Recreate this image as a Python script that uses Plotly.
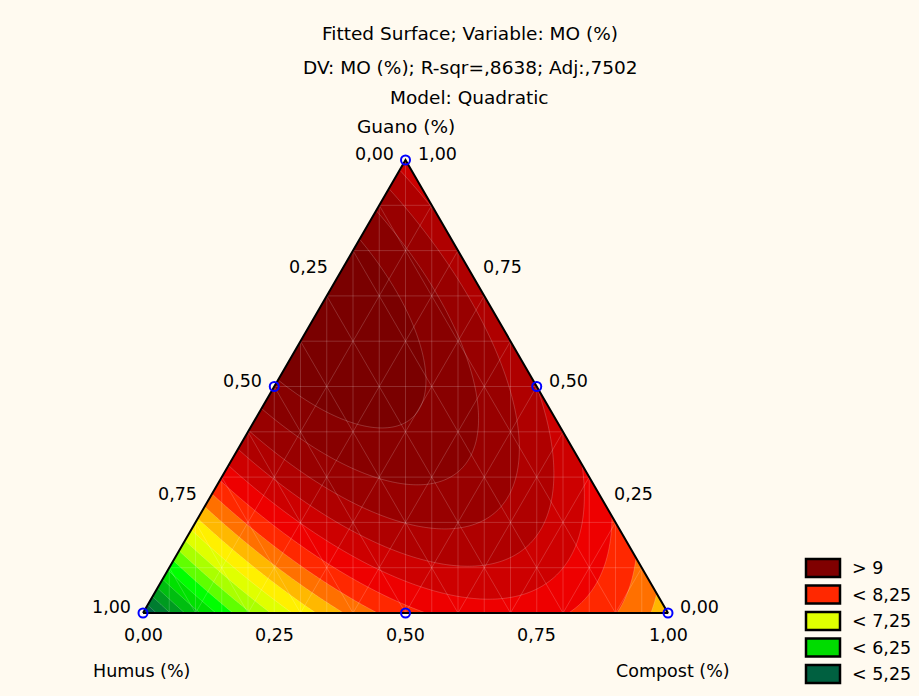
import numpy as np
import plotly.graph_objects as go

# ---------------- data ----------------
# Mixture design points (proportions) and fitted MO (%) at them
humus = [1.0, 0.0, 0.0, 0.5, 0.5, 0.0]
compost = [0.0, 1.0, 0.0, 0.5, 0.0, 0.5]
guano = [0.0, 0.0, 1.0, 0.0, 0.5, 0.5]
mo_fitted = [5.00, 7.60, 8.60, 8.16, 9.45, 8.75]

contour_start = 5.25
contour_end = 9.5
contour_step = 0.25
band_colors = ["#006040", "#007D30", "#009B20", "#00BE10", "#00E000", "#00FF00",
               "#60FF00", "#AAFF00", "#E0FF00", "#FFF000", "#FFB800", "#FF7000",
               "#FF2800", "#EE0000", "#CD0000", "#AF0000", "#980000", "#880000",
               "#7A0000"]

legend_labels = ["> 9", "< 8,25", "< 7,25", "< 6,25", "< 5,25"]
legend_colors = ["#800000", "#FF2800", "#E0FF00", "#00DC00", "#006040"]

tick_values = [0.0, 0.25, 0.5, 0.75, 1.0]
tick_labels = ["0,00", "0,25", "0,50", "0,75", "1,00"]

title_lines = ["Fitted Surface; Variable: MO (%)",
               "DV: MO (%); R-sqr=,8638; Adj:,7502",
               "Model: Quadratic"]
axis_titles = ["Guano (%)", "Humus (%)", "Compost (%)"]

# ---------------- quadratic (Scheffe) mixture model ----------------
y1, y2, y3, y12, y13, y23 = mo_fitted
b1, b2, b3 = y1, y2, y3
b12 = 4 * y12 - 2 * (y1 + y2)
b13 = 4 * y13 - 2 * (y1 + y3)
b23 = 4 * y23 - 2 * (y2 + y3)

S = np.sqrt(3) / 2
xs = np.linspace(0, 1, 321)
ys = np.linspace(0, S, 281)
X, Y = np.meshgrid(xs, ys)
G = Y / S
C = X - G / 2
Hm = 1 - C - G
Z = b1 * Hm + b2 * C + b3 * G + b12 * Hm * C + b13 * Hm * G + b23 * C * G

BG = "#FFFAF0"
FONT = "DejaVu Sans"
FS = 18.5
FS_SMALL = 17.5
TXT = "#000000"

W, Hpx = 919, 696
sx = 525.0
sy = 453.0 / S
xr = [-143 / sx, (W - 143) / sx]
yr = [-(Hpx - 613) / sy, 613 / sy]


def pix(px, py):
    return (px - 143) / sx, (613 - py) / sy


def tern(h, c, g):
    return c + g / 2, g * S


fig = go.Figure()

nlev = int(round((contour_end - contour_start) / contour_step)) + 1
cscale = [[k / nlev, col] for k, col in enumerate(band_colors)]
fig.add_trace(go.Contour(
    x=xs, y=ys, z=Z,
    autocontour=False,
    contours=dict(start=contour_start, end=contour_end, size=contour_step,
                  coloring="fill", showlines=True),
    line=dict(color="rgba(255,255,255,0.28)", width=0.7, smoothing=1),
    colorscale=cscale, showscale=False, hoverinfo="skip"))

# faint mesh lines inside the triangle
mx, my = [], []
for k in range(1, 10):
    v = k / 10
    for p, q in [((1 - v, 0, v), (0, 1 - v, v)),
                 ((v, 0, 1 - v), (v, 1 - v, 0)),
                 ((1 - v, v, 0), (0, v, 1 - v))]:
        a = tern(*p)
        b = tern(*q)
        mx += [a[0], b[0], None]
        my += [a[1], b[1], None]
for k in range(1, 20):
    x = k * 0.05
    top = min(np.sqrt(3) * x, np.sqrt(3) * (1 - x))
    mx += [x, x, None]
    my += [0, top, None]
fig.add_trace(go.Scatter(x=mx, y=my, mode="lines",
                         line=dict(color="rgba(255,255,255,0.25)", width=0.7),
                         hoverinfo="skip", showlegend=False))

# masks outside triangle
e = 0.03
fig.add_trace(go.Scatter(x=[0, 0.5, 0.5, -e, -e, 0], y=[0, S, S + e, S + e, 0, 0],
                         mode="lines", fill="toself", fillcolor=BG,
                         line=dict(width=0, color=BG), hoverinfo="skip", showlegend=False))
fig.add_trace(go.Scatter(x=[1, 0.5, 0.5, 1 + e, 1 + e, 1], y=[0, S, S + e, S + e, 0, 0],
                         mode="lines", fill="toself", fillcolor=BG,
                         line=dict(width=0, color=BG), hoverinfo="skip", showlegend=False))

# triangle border
fig.add_trace(go.Scatter(x=[0, 1, 0.5, 0], y=[0, 0, S, 0], mode="lines",
                         line=dict(color="black", width=2), hoverinfo="skip",
                         showlegend=False))

# design points
px_, py_ = zip(*[tern(h, c, g) for h, c, g in zip(humus, compost, guano)])
fig.add_trace(go.Scatter(x=list(px_), y=list(py_), mode="markers",
                         marker=dict(symbol="circle-open", size=9, color="#0000FF",
                                     line=dict(width=2, color="#0000FF")),
                         cliponaxis=False, hoverinfo="skip", showlegend=False))

ann = []


def add_text(x, y, text, xa="center", ya="middle", xs_=0, ys_=0, size=FS):
    ann.append(dict(x=x, y=y, xref="x", yref="y", text=text, showarrow=False,
                    xanchor=xa, yanchor=ya, xshift=xs_, yshift=ys_,
                    font=dict(family=FONT, size=size, color=TXT)))


# titles
for line, pyc in zip(title_lines, [33, 67, 97]):
    x, y = pix(469.5, pyc)
    add_text(x, y, line)

# ticks
for v, lab in zip(tick_values, tick_labels):
    # left edge: humus value v
    x, y = tern(v, 0, 1 - v)
    add_text(x, y, lab, xa="right", xs_=-10, ys_=6, size=FS_SMALL)
    # right edge: guano value v
    x, y = tern(0, 1 - v, v)
    add_text(x, y, lab, xa="left", xs_=10, ys_=6, size=FS_SMALL)
    # bottom: compost value v
    x, y = tern(1 - v, v, 0)
    add_text(x, y, lab, ys_=-22, size=FS_SMALL)

x, y = tern(0, 0, 1)
add_text(x, y, axis_titles[0], ys_=34)
x, y = pix(192, 671)
add_text(x, y, axis_titles[1], xa="right", size=FS_SMALL)
x, y = pix(614, 671)
add_text(x, y, axis_titles[2], xa="left", size=FS_SMALL)

# legend
shapes = []
for i, (lab, col) in enumerate(zip(legend_labels, legend_colors)):
    top = 559 + 26.5 * i
    x0, y0 = pix(806, top)
    x1, y1_ = pix(840, top + 18)
    shapes.append(dict(type="rect", xref="x", yref="y", x0=x0, y0=y1_, x1=x1, y1=y0,
                       fillcolor=col, line=dict(color="black", width=2.5)))
    tx, ty = pix(850, top + 9)
    add_text(tx, ty, lab, xa="left", size=FS_SMALL)

fig.update_layout(
    width=W, height=Hpx, autosize=False,
    margin=dict(l=0, r=0, t=0, b=0),
    paper_bgcolor=BG, plot_bgcolor=BG,
    xaxis=dict(range=xr, visible=False, fixedrange=True),
    yaxis=dict(range=yr, visible=False, fixedrange=True),
    annotations=ann, shapes=shapes, showlegend=False,
)

fig.write_html("out.html")
